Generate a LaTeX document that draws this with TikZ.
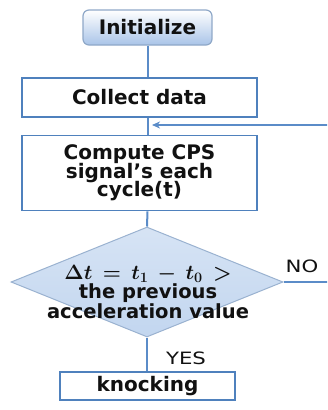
\documentclass[tikz,border=0pt]{standalone}
\usepackage{amsmath,bm}
\usepackage{fontspec}
\setmainfont{DejaVu Sans}
\newfontfamily\tagfont[FakeStretch=1.25]{DejaVu Sans}
\usetikzlibrary{shapes.geometric,arrows.meta}

% allow tight line pitch inside multi-line nodes
\newcommand\tightlines{\lineskiplimit -20pt\relax}

\definecolor{edgeblue}{HTML}{4F81BD}
\definecolor{lineblue}{HTML}{5B8CC8}
\definecolor{paleblue}{HTML}{C5D8F0}
\definecolor{deepblue}{HTML}{A9C4E8}
\definecolor{greyblue}{HTML}{8FA8C8}
\definecolor{inktext}{HTML}{111111}

\tikzset{
  boxtext/.style={font=\fontsize{20}{18.5}\selectfont\bfseries\tightlines,
    text=inktext, align=center},
  startbox/.style={boxtext, draw=greyblue, line width=1.2pt, rounded corners=6pt,
    top color=white, bottom color=deepblue, minimum width=129pt, minimum height=35pt, inner sep=0pt},
  procbox/.style={boxtext, draw=edgeblue, line width=1.8pt, fill=white, inner sep=0pt},
  decision/.style={diamond, draw=greyblue!80!paleblue, line width=1pt, top color=paleblue!70!white,
    bottom color=paleblue!90!deepblue, inner sep=0pt, minimum width=272pt, minimum height=110pt},
  link/.style={draw=lineblue, line width=2pt},
  flowarrow/.style={link, line width=1.3pt, -{Stealth[length=8pt,width=7pt,inset=2.5pt]}},
  tag/.style={font=\fontsize{17}{19}\selectfont\tagfont, text=inktext}
}

\begin{document}
\begin{tikzpicture}[x=1pt,y=-1pt]
  \useasboundingbox (0,0) rectangle (327,410);
  \clip (0,0) rectangle (327,410);

  % process steps
  \node[startbox] (init) at (147.5,27.5) {Initialize};
  \node[procbox, minimum width=235pt, minimum height=39pt] (collect) at (139.5,97.5) {Collect data};
  \node[procbox, minimum width=235pt, minimum height=75pt] (cps) at (139.5,173) {Compute CPS\\signal’s each\\cycle(t)};
  \node[decision] (dec) at (147,282) {};
  \node[boxtext, font=\fontsize{19.5}{19.5}\selectfont\bfseries\tightlines] (dectext) at (148,292)
    {{\fontsize{22}{19.5}\selectfont$\boldsymbol{\Delta t \mkern4mu= \mkern4mu t_1 \mkern4mu- \mkern4mu t_0 \mkern4mu>}$}\\the previous\\acceleration value};
  \node[procbox, minimum width=175pt, minimum height=28pt] (knock) at (147.5,386) {knocking};

  % feedback loop runs off to the right
  \coordinate (loopin) at (152,125);
  \coordinate (farlow) at (345,0 |- dec.east);
  \coordinate (farhigh) at (345,125);

  % connectors
  \draw[link] (init.south) -- (init.south |- collect.north);
  \draw[link] (init.south |- collect.south) -- (init.south |- cps.north);
  \draw[link] (init.south |- cps.south) -- (dec.north);
  \draw[link] (dec.south) -- (dec.south |- knock.north);
  \draw[link] (dec.east) -- (farlow) -- (farhigh);
  \draw[flowarrow] (farhigh) -- (loopin);

  % branch labels
  \node[tag] (nolabel) at (302,266) {NO};
  \node[tag] (yeslabel) at (186,358) {YES};
\end{tikzpicture}
\end{document}
